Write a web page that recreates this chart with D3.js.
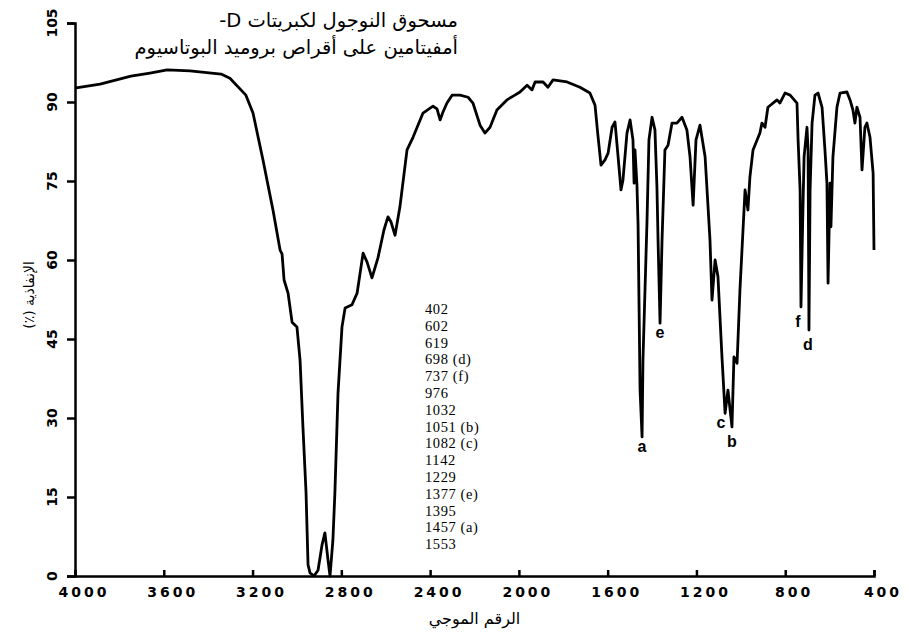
<!DOCTYPE html>
<html>
<head>
<meta charset="utf-8">
<script src="https://cdn.jsdelivr.net/npm/d3@7"></script>
<style>
  body { margin: 0; background: #fff; }
  svg { display: block; }
</style>
</head>
<body>
<div id="chart"></div>
<script>
// Spectrum (wavenumber cm-1, transmittance %)
const wavenumber = [
  3995, 3887, 3748, 3662, 3585, 3482, 3342, 3302, 3230, 3198,
  3153, 3108, 3076, 3067, 3058, 3040, 3022, 3000, 2986, 2973,
  2959, 2950, 2941, 2923, 2905, 2887, 2874, 2860, 2851, 2838,
  2829, 2815, 2797, 2783, 2752, 2729, 2702, 2684, 2662, 2635,
  2608, 2590, 2576, 2558, 2536, 2504, 2477, 2432, 2387, 2369,
  2355, 2342, 2324, 2301, 2265, 2229, 2207, 2175, 2153, 2130,
  2099, 2054, 2018, 1995, 1963, 1941, 1927, 1891, 1869, 1846,
  1783, 1725, 1680, 1657, 1644, 1630, 1612, 1598, 1580, 1567,
  1553, 1540, 1531, 1513, 1499, 1486, 1481, 1477, 1468, 1463,
  1454, 1445, 1441, 1423, 1414, 1400, 1387, 1378, 1373, 1364,
  1355, 1342, 1328, 1310, 1288, 1265, 1243, 1229, 1215, 1202,
  1184, 1161, 1139, 1130, 1116, 1103, 1085, 1071, 1058, 1040,
  1031, 1017, 1004, 981, 968, 959, 945, 914, 905, 891,
  878, 837, 824, 801, 778, 747, 742, 733, 729, 720,
  715, 702, 697, 693, 688, 679, 666, 652, 634, 621,
  612, 607, 598, 594, 585, 567, 553, 522, 508, 495,
  486, 477, 463, 454, 441, 432, 418, 404, 400
];
const transmittance = [
  92.7, 93.4, 94.9, 95.5, 96.1, 95.9, 95.3, 94.5, 91.3, 87.9,
  79.0, 69.5, 61.9, 61.1, 56.2, 53.7, 48.2, 47.3, 41.0, 28.3,
  15.8, 2.1, 0.6, 0.0, 1.1, 5.9, 8.2, 3.0, 0.0, 6.8,
  15.8, 34.7, 47.3, 50.9, 51.5, 53.7, 61.3, 59.6, 56.6, 60.4,
  65.7, 68.2, 67.2, 64.7, 70.1, 80.9, 83.3, 87.9, 89.2, 88.7,
  86.6, 88.1, 89.8, 91.3, 91.3, 90.9, 89.8, 85.6, 84.1, 85.2,
  88.5, 90.4, 91.3, 91.9, 93.2, 92.3, 93.8, 93.8, 92.8, 94.2,
  93.8, 92.8, 91.7, 89.4, 83.7, 78.0, 79.0, 80.3, 85.2, 86.2,
  79.6, 73.3, 75.2, 84.1, 86.6, 82.8, 74.6, 80.9, 74.2, 66.6,
  35.3, 26.4, 41.0, 67.0, 82.8, 87.1, 84.7, 73.9, 63.8, 48.0,
  63.8, 80.9, 81.8, 86.0, 86.0, 87.1, 84.7, 79.6, 70.4, 82.8,
  85.6, 79.6, 63.8, 52.4, 60.0, 56.8, 41.6, 30.9, 35.3, 28.3,
  41.6, 40.4, 54.3, 73.3, 69.5, 75.8, 80.9, 84.1, 86.0, 85.2,
  89.0, 90.4, 89.8, 91.7, 91.3, 89.8, 82.8, 73.3, 51.1, 70.1,
  79.6, 85.2, 80.9, 46.7, 73.3, 86.0, 91.3, 91.7, 89.0, 80.9,
  74.6, 55.6, 74.6, 66.3, 79.6, 89.0, 91.7, 91.9, 90.4, 88.5,
  86.0, 89.0, 87.1, 77.1, 85.2, 86.0, 83.3, 76.5, 61.9
];

const xTicks = [4000, 3600, 3200, 2800, 2400, 2000, 1600, 1200, 800, 400];
const yTicks = [0, 15, 30, 45, 60, 75, 90, 105];

// Lettered bands
const peakLetters = ["a", "e", "c", "b", "f", "d"];
const peakWave = [1445, 1364, 1071, 1040, 729, 693];
const peakT = [26.4, 48.0, 30.9, 28.3, 51.1, 46.7];

const peakList = [
  "402", "602", "619", "698 (d)", "737 (f)", "976", "1032", "1051 (b)",
  "1082 (c)", "1142", "1229", "1377 (e)", "1395", "1457 (a)", "1553"
];

const titleLines = [
  "مسحوق النوجول لكبريتات D-",
  "أمفيتامين على أقراص  بروميد البوتاسيوم"
];
const xLabel = "الرقم الموجي";
const yLabel = "الإنفاذية (٪)";

const W = 910, H = 636;
const svg = d3.select("#chart").append("svg")
  .attr("width", W)
  .attr("height", H);

const x = d3.scaleLinear().domain([4000, 400]).range([75, 874]);
const y = d3.scaleLinear().domain([0, 105]).range([576, 23]);

// spectrum
const pts = wavenumber.map((w, i) => [w, transmittance[i]]);
const line = d3.line()
  .x(d => x(d[0]))
  .y(d => y(d[1]));

svg.append("path")
  .datum(pts)
  .attr("fill", "none")
  .attr("stroke", "#000")
  .attr("stroke-width", 2.8)
  .attr("stroke-linejoin", "round")
  .attr("d", line);

// axes
const xAxis = svg.append("g")
  .attr("transform", "translate(0,576)")
  .call(d3.axisBottom(x).tickValues(xTicks).tickSize(-6).tickFormat(""));
const yAxis = svg.append("g")
  .attr("transform", "translate(75,0)")
  .call(d3.axisLeft(y).tickValues(yTicks).tickSize(8).tickFormat(""));

[xAxis, yAxis].forEach(g => {
  g.select(".domain").attr("stroke", "#000").attr("stroke-width", 2.5);
  g.selectAll(".tick line").attr("stroke", "#000").attr("stroke-width", 2.5);
});

svg.append("g").selectAll("text")
  .data(xTicks)
  .join("text")
  .attr("x", d => x(d) + 9)
  .attr("y", 597)
  .attr("text-anchor", "middle")
  .style("font-family", "DejaVu Sans")
  .style("font-weight", "bold")
  .style("font-size", "14px")
  .style("letter-spacing", "3px")
  .text(d => d);

svg.append("g").selectAll("text")
  .data(yTicks)
  .join("text")
  .attr("transform", d => "translate(57," + y(d) + ")rotate(-90)")
  .attr("text-anchor", "middle")
  .style("font-family", "DejaVu Sans")
  .style("font-weight", "bold")
  .style("font-size", "14px")
  .text(d => d);

// axis titles
svg.append("text")
  .attr("x", (x(4000) + x(400)) / 2)
  .attr("y", 624)
  .attr("text-anchor", "middle")
  .attr("direction", "rtl")
  .style("font-family", "DejaVu Sans")
  .style("font-size", "16px")
  .text(xLabel);

svg.append("text")
  .attr("transform", "translate(34,295)rotate(-90)")
  .attr("text-anchor", "middle")
  .attr("direction", "rtl")
  .style("font-family", "DejaVu Sans")
  .style("font-size", "14px")
  .text(yLabel);

// title
svg.append("g").selectAll("text")
  .data(titleLines)
  .join("text")
  .attr("x", 458)
  .attr("y", (d, i) => 27 + i * 27)
  .attr("direction", "rtl")
  .attr("text-anchor", "start")
  .style("font-family", "DejaVu Sans")
  .style("font-size", "19.5px")
  .text(d => d);

// band list
svg.append("g").selectAll("text")
  .data(peakList)
  .join("text")
  .attr("x", 425)
  .attr("y", (d, i) => 314 + i * 16.8)
  .style("font-family", "Liberation Serif")
  .style("font-size", "14.5px")
  .style("letter-spacing", "0.6px")
  .text(d => d);

// band letters under their minima
const tall = { b: 1, d: 1, f: 1 };
const shift = { c: -4, f: -3, d: -1 };
svg.append("g").selectAll("text")
  .data(peakLetters)
  .join("text")
  .attr("x", (d, i) => x(peakWave[i]) + (shift[d] || 0))
  .attr("y", (d, i) => y(peakT[i]) + (tall[d] ? 20 : 15))
  .attr("text-anchor", "middle")
  .style("font-family", "Liberation Sans")
  .style("font-weight", "bold")
  .style("font-size", "16px")
  .text(d => d);
</script>
</body>
</html>
